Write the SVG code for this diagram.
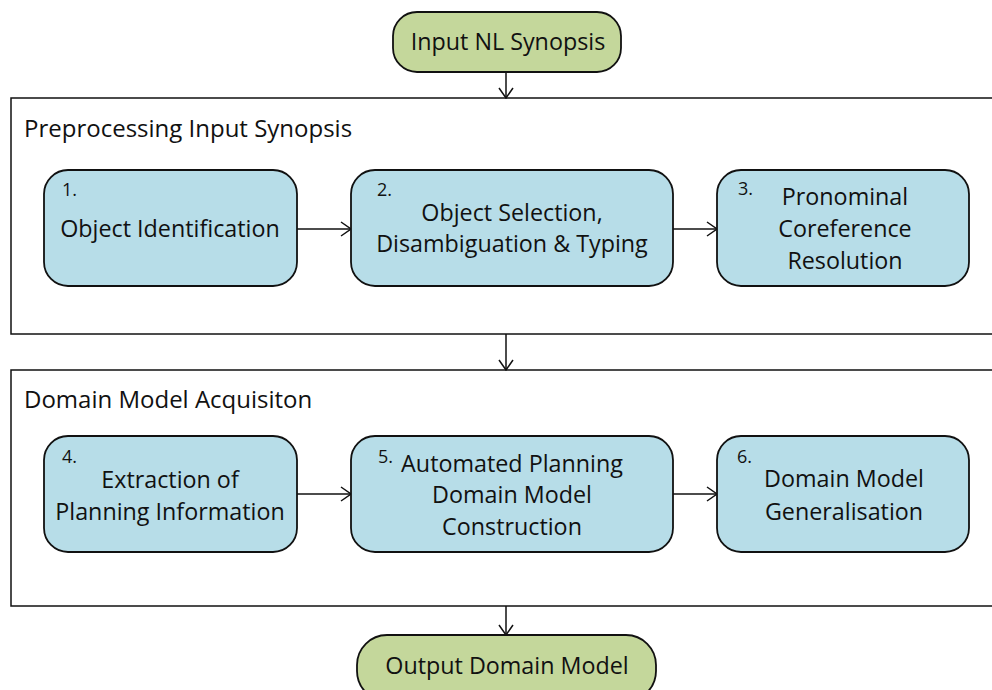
<svg xmlns="http://www.w3.org/2000/svg" width="992" height="690" viewBox="0 0 992 690">
<style>
text{font-family:"Open Sans","Liberation Sans",Arial,sans-serif;font-size:23.3px;fill:#111}
.t{text-anchor:middle}
.n{font-size:18px}
.h{font-size:24px}
.term{fill:#c4d79b;stroke:#111;stroke-width:1.8}
.step{fill:#b7dde8;stroke:#111;stroke-width:1.8}
.frame{fill:#fff;stroke:#111;stroke-width:1.5}
.c{stroke:#111;stroke-width:1.5;fill:none;marker-end:url(#ah)}
</style>
<defs>
<marker id="ah" viewBox="0 0 12 16" refX="11" refY="8" markerWidth="12" markerHeight="16" markerUnits="userSpaceOnUse" orient="auto">
<path d="M1,1 L11,8 L1,15" fill="none" stroke="#111" stroke-width="1.5"/>
</marker>
</defs>
<g id="frame1"><rect class="frame" x="11" y="98" width="990" height="236"/><text class="h" x="24" y="137">Preprocessing Input Synopsis</text></g>
<g id="frame2"><rect class="frame" x="11" y="370" width="990" height="236"/><text class="h" x="24" y="408">Domain Model Acquisiton</text></g>
<g id="connectors">
<line class="c" x1="506" y1="72" x2="506" y2="98"/>
<line class="c" x1="297" y1="229" x2="351" y2="229"/>
<line class="c" x1="673" y1="229" x2="717" y2="229"/>
<line class="c" x1="506" y1="334" x2="506" y2="370"/>
<line class="c" x1="297" y1="494" x2="351" y2="494"/>
<line class="c" x1="673" y1="494" x2="717" y2="494"/>
<line class="c" x1="506" y1="606" x2="506" y2="635"/>
</g>
<g id="input"><rect class="term" x="393" y="12" width="228" height="60" rx="24"/><text class="t" x="508" y="50">Input NL Synopsis</text></g>
<g id="step1"><rect class="step" x="44" y="170" width="253" height="116" rx="24"/><text class="n" x="62" y="196">1.</text><text class="t" x="170" y="237">Object Identification</text></g>
<g id="step2"><rect class="step" x="351" y="170" width="322" height="116" rx="24"/><text class="n" x="377" y="196">2.</text><text class="t" x="512" y="221">Object Selection,</text><text class="t" x="512" y="252">Disambiguation &amp; Typing</text></g>
<g id="step3"><rect class="step" x="717" y="170" width="252" height="116" rx="24"/><text class="n" x="738" y="195">3.</text><text class="t" x="845" y="205">Pronominal</text><text class="t" x="845" y="237">Coreference</text><text class="t" x="845" y="269">Resolution</text></g>
<g id="step4"><rect class="step" x="44" y="436" width="253" height="116" rx="24"/><text class="n" x="62" y="463">4.</text><text class="t" x="170" y="488">Extraction of</text><text class="t" x="170" y="520">Planning Information</text></g>
<g id="step5"><rect class="step" x="351" y="436" width="322" height="116" rx="24"/><text class="n" x="378" y="463">5.</text><text class="t" x="512" y="472">Automated Planning</text><text class="t" x="512" y="503">Domain Model</text><text class="t" x="512" y="535">Construction</text></g>
<g id="step6"><rect class="step" x="717" y="436" width="252" height="116" rx="24"/><text class="n" x="737" y="463">6.</text><text class="t" x="844" y="487">Domain Model</text><text class="t" x="844" y="520">Generalisation</text></g>
<g id="output"><rect class="term" x="357" y="635" width="299" height="66" rx="30"/><text class="t" x="507" y="674">Output Domain Model</text></g>
</svg>
